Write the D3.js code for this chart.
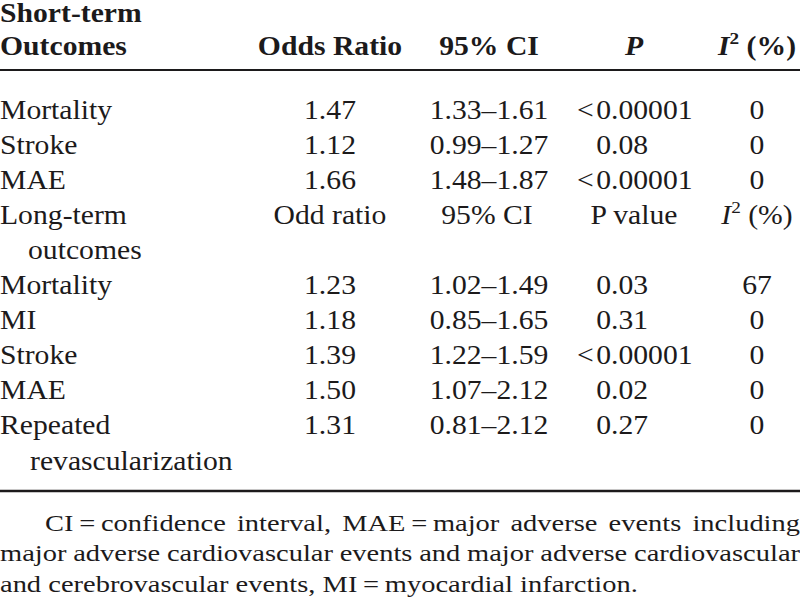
<!DOCTYPE html>
<html><head><meta charset="utf-8">
<script src="https://cdn.jsdelivr.net/npm/d3@7"></script>
<style>html,body{margin:0;padding:0;background:#fff;}svg{display:block;}</style>
</head><body>
<svg id="c" width="800" height="601"></svg>
<script>
// ---- data ----
const headerCols = ["Odds Ratio", "95% CI", "P", "I2 (%)"];
const subHeaderCols = ["Odd ratio", "95% CI", "P value", "I2 (%)"];
const shortOutcomes = ["Mortality", "Stroke", "MAE"];
const shortOR = [1.47, 1.12, 1.66];
const shortCI = [[1.33, 1.61], [0.99, 1.27], [1.48, 1.87]];
const shortP = ["<0.00001", "0.08", "<0.00001"];
const shortI2 = [0, 0, 0];
const longOutcomes = [["Mortality"], ["MI"], ["Stroke"], ["MAE"], ["Repeated", "revascularization"]];
const longOR = [1.23, 1.18, 1.39, 1.50, 1.31];
const longCI = [[1.02, 1.49], [0.85, 1.65], [1.22, 1.59], [1.07, 2.12], [0.81, 2.12]];
const longP = ["0.03", "0.31", "<0.00001", "0.02", "0.27"];
const longI2 = [67, 0, 0, 0, 0];
const footLines = [
  ["CI\u2009=\u2009confidence", "interval,", "MAE\u2009=\u2009major", "adverse", "events", "including"],
  ["major", "adverse", "cardiovascular", "events", "and", "major", "adverse", "cardiovascular"],
  ["and", "cerebrovascular", "events,", "MI\u2009=\u2009myocardial", "infarction."]
];

// ---- layout ----
const svg = d3.select("#c");
const FONT = "'Liberation Serif','Times New Roman',Times,serif";
const SX = 1.12, FS = 26.5, FFS = 24;
const ink = "#1c1a1b";
const fmt = d3.format(".2f");
const col = d3.scaleOrdinal().domain(["or", "ci", "p", "i2"]).range([330, 489, 611, 757]);
const row = d3.scaleLinear().domain([0, 10]).range([118.5, 469.5]);
const head = d3.scaleLinear().domain([0, 1]).range([21.5, 55]);

function txt(str, x, y, anchor, o = {}) {
  const sx = o.sx || SX;
  return svg.append("text")
    .attr("transform", `translate(${x},${y}) scale(${sx},1)`)
    .attr("text-anchor", anchor || "start")
    .style("font-family", FONT).style("font-size", (o.fs || FS) + "px")
    .style("fill", ink)
    .style("font-weight", o.bold ? "bold" : "normal")
    .style("font-style", o.italic ? "italic" : "normal")
    .text(str);
}
function width(str, o = {}) {
  const t = txt(str, 0, -200, "start", o);
  const w = t.node().getComputedTextLength() * (o.sx || SX);
  t.remove();
  return w;
}
function i2(x, y, bold) {
  const t = svg.append("text")
    .attr("transform", `translate(${x},${y}) scale(${SX},1)`)
    .attr("text-anchor", "middle").style("font-family", FONT).style("font-size", FS + "px")
    .style("fill", ink).style("font-weight", bold ? "bold" : "normal");
  t.append("tspan").style("font-style", "italic").text("I");
  t.append("tspan").style("font-size", (FS * 0.65) + "px").attr("dy", -11).text("2");
  t.append("tspan").attr("dy", 11).text(" (%)");
}
function pval(str, y) {
  const s = str.replace("<", "<\u200a");
  const pre = s.slice(0, s.indexOf("."));
  txt(s, col("p") - width(pre), y, "start");
}

// header
txt("Short-term", 0, head(0), "start", {bold: true});
txt("Outcomes", 0, head(1), "start", {bold: true});
txt(headerCols[0], col("or"), head(1), "middle", {bold: true});
txt(headerCols[1], col("ci"), head(1), "middle", {bold: true});
txt(headerCols[2], 634, head(1), "middle", {bold: true, italic: true});
i2(col("i2"), head(1), true);

svg.append("line").attr("x1", 0).attr("x2", 800).attr("y1", 70).attr("y2", 70)
  .attr("stroke", ink).attr("stroke-width", 2.2);

const ciStr = c => fmt(c[0]) + "\u2013" + fmt(c[1]);

shortOutcomes.forEach((name, i) => {
  const y = row(i);
  txt(name, 0, y, "start");
  txt(fmt(shortOR[i]), col("or"), y, "middle");
  txt(ciStr(shortCI[i]), col("ci"), y, "middle");
  pval(shortP[i], y);
  txt(String(shortI2[i]), col("i2"), y, "middle");
});

// long-term subheader
txt("Long-term", 0, row(3), "start");
txt("outcomes", 28, row(4), "start");
txt(subHeaderCols[0], col("or"), row(3), "middle");
txt(subHeaderCols[1], col("ci") - 2, row(3), "middle");
txt(subHeaderCols[2], 634, row(3), "middle");
i2(col("i2"), row(3), false);

let r = 5;
longOutcomes.forEach((lines, i) => {
  const y = row(r);
  txt(lines[0], 0, y, "start");
  if (lines[1]) txt(lines[1], 30, row(r + 1), "start");
  txt(fmt(longOR[i]), col("or"), y, "middle");
  txt(ciStr(longCI[i]), col("ci"), y, "middle");
  pval(longP[i], y);
  txt(String(longI2[i]), col("i2"), y, "middle");
  r += lines.length;
});

svg.append("line").attr("x1", 0).attr("x2", 800).attr("y1", 491).attr("y2", 491)
  .attr("stroke", ink).attr("stroke-width", 2.6);

// footnote (justified); horizontal scale fitted so the last line ends near x=638
const footY = d3.scaleLinear().domain([0, 2]).range([530.5, 592]);
const footStart = [45, 0, 0];
const lastNatural = width(footLines[2].join(" "), {fs: FFS, sx: 1});
const FSX = 638 / lastNatural;
footLines.forEach((words, li) => {
  const y = footY(li);
  const o = {fs: FFS, sx: FSX};
  const widths = words.map(w => width(w, o));
  const sp = width("a a", o) - width("aa", o);
  const total = d3.sum(widths);
  const gap = li < 2 ? (800 - footStart[li] - total) / (words.length - 1) : sp;
  let x = footStart[li];
  words.forEach((w, k) => { txt(w, x, y, "start", o); x += widths[k] + gap; });
});
</script>
</body></html>
